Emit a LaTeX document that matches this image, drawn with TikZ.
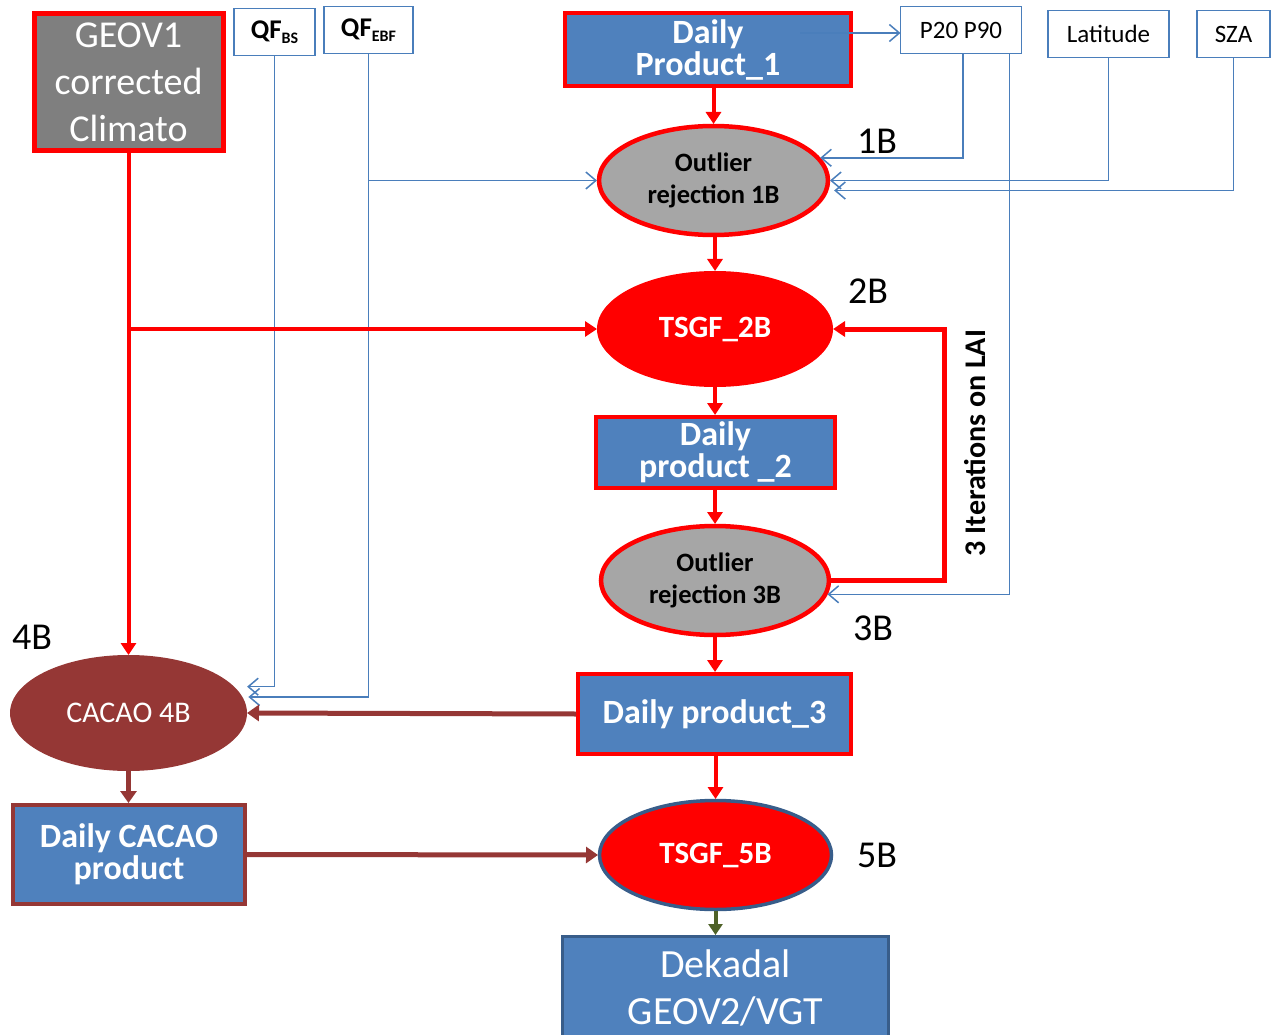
\documentclass[tikz,border=0pt]{standalone}
\usepackage{fontspec}
\setmainfont{Carlito}
\usetikzlibrary{shapes.geometric,arrows.meta,calc}
\definecolor{cblue}{RGB}{79,129,189}
\definecolor{cline}{RGB}{74,126,187}
\definecolor{cdgray}{RGB}{127,127,127}
\definecolor{clgray}{RGB}{166,166,166}
\definecolor{cbrown}{RGB}{149,55,53}
\definecolor{cnavy}{RGB}{56,93,138}
\definecolor{cgreen}{RGB}{79,98,40}
\tikzset{
 every node/.style={inner sep=0pt, outer sep=0pt, align=center},
 prodbox/.style={rectangle, fill=cblue, draw=red, line width=4.5pt, outer sep=2pt, text=white, font=\fontsize{34}{32}\selectfont\bfseries},
 infobox/.style={rectangle, draw=cline, line width=1.4pt, fill=white, minimum height=47pt, font=\fontsize{25}{30}\selectfont},
 outlier/.style={ellipse, fill=clgray, draw=red, line width=4.5pt, outer sep=2pt, font=\fontsize{26.5}{32}\selectfont\bfseries},
 tsgf/.style={ellipse, fill=red, text=white, font=\fontsize{31}{36}\selectfont\bfseries},
 steplbl/.style={font=\fontsize{38}{40}\selectfont},
 redarrow/.style={draw=red, line width=4pt, -{Triangle[length=12pt,width=15pt]}},
 brownarrow/.style={draw=cbrown, line width=5pt, -{Triangle[length=12pt,width=16pt]}},
 greenarrow/.style={draw=cgreen, line width=4pt, -{Triangle[length=11pt,width=14pt]}},
 bluearrow/.style={draw=cline, line width=1.5pt, -{Straight Barb[length=10pt,width=17pt]}},
}
\begin{document}
\begin{tikzpicture}[x=1pt,y=-1pt]
\useasboundingbox (0,0) rectangle (1280,1035);
% nodes
\node[rectangle, fill=cdgray, draw=red, line width=5pt, outer sep=2pt, minimum width=189pt, minimum height=137pt, text=white, font=\fontsize{38}{47}\selectfont] (geo) at (128.5,82.5) {GEOV1\\corrected\\Climato};
\node[infobox, minimum width=81pt] (qfbs) at (274.5,32) {\fontsize{27}{30}\selectfont\bfseries QF\raisebox{-5pt}{\fontsize{16}{18}\selectfont\bfseries BS}};
\node[infobox, minimum width=89pt] (qfebf) at (368.5,30) {\fontsize{27}{30}\selectfont\bfseries QF\raisebox{-5pt}{\fontsize{16}{18}\selectfont\bfseries EBF}};
\node[prodbox, minimum width=286pt, minimum height=73pt] (dp1) at (708,49.5) {Daily\\Product\_1};
\node[infobox, minimum width=121pt] (p20) at (961,30) {P20 P90};
\node[infobox, minimum width=121pt] (lat) at (1108.5,34) {Latitude};
\node[infobox, minimum width=73pt] (sza) at (1233.5,34) {SZA};
\node[outlier, minimum width=229pt, minimum height=109pt] (o1b) at (713.5,180.5) {Outlier\\rejection 1B};
\node[tsgf, minimum width=236pt, minimum height=116pt] (t2b) at (715,329) {TSGF\_2B};
\node[prodbox, minimum width=239pt, minimum height=71pt] (dp2) at (715.5,452.5) {Daily\\product \_2};
\node[outlier, minimum width=228pt, minimum height=109pt] (o3b) at (715,580.5) {Outlier\\rejection 3B};
\node[prodbox, minimum width=273pt, minimum height=80pt] (dp3) at (714.5,714) {Daily product\_3};
\node[ellipse, fill=cbrown, text=white, minimum width=237pt, minimum height=116pt, font=\fontsize{30}{34}\selectfont] (cacao) at (128.5,713) {CACAO 4B};
\node[prodbox, draw=cbrown, minimum width=232pt, minimum height=99pt] (dcacao) at (129,854.5) {Daily CACAO\\product};
\node[tsgf, draw=cnavy, line width=3.5pt, outer sep=1.5pt, minimum width=232pt, minimum height=109pt] (t5b) at (715.5,855) {TSGF\_5B};
\node[rectangle, fill=cblue, draw=cnavy, line width=3pt, outer sep=1.5pt, text=white, minimum width=326pt, minimum height=103pt, font=\fontsize{40}{47}\selectfont] (dek) at (725.5,988) {Dekadal\\GEOV2/VGT};
% labels
\node[steplbl] (l1b) at (877,141) {1B};
\node[steplbl] (l2b) at (868,291) {2B};
\node[steplbl] (l3b) at (873,628) {3B};
\node[steplbl] (l4b) at (32,637) {4B};
\node[steplbl] (l5b) at (877,855) {5B};
\node[rotate=90, font=\fontsize{30}{34}\selectfont\bfseries] (iter) at (975,443) {3 Iterations on LAI};
% blue connectors
\coordinate (dp1in) at (800,33);
\draw[bluearrow] (dp1in) -- (dp1in -| p20.west);
\draw[bluearrow] ($(p20.south)+(2,0)$) |- (o1b.12);
\draw[bluearrow] ($(p20.south)+(48.3,0)$) |- (o3b.-7.5);
\draw[bluearrow] (lat.south) |- (o1b.east);
\draw[bluearrow, shorten >=6pt] (sza.south) |- (o1b.-5.7);
\draw[bluearrow] (qfebf.south) |- (o1b.west);
\draw[bluearrow, shorten >=6pt] (qfebf.south) |- (cacao.8.5);
\draw[bluearrow, shorten >=13pt] (qfbs.south) |- (cacao.14.4);
% red connectors
\draw[redarrow] (o1b.north |- dp1.south) -- (o1b.north);
\draw[redarrow] (t2b.north |- o1b.south) -- (t2b.north);
\draw[redarrow] (t2b.south) -- (t2b.south |- dp2.north);
\draw[redarrow] (o3b.north |- dp2.south) -- (o3b.north);
\draw[redarrow] (o3b.south) -- (o3b.south |- dp3.north);
\draw[redarrow] (t5b.north |- dp3.south) -- (t5b.north);
\draw[redarrow] (geo.south) -- (cacao.north);
\draw[redarrow] (geo.south |- t2b.west) -- (t2b.west);
\coordinate (loop) at (944,455);
\draw[redarrow, line width=5pt] (o3b.east) -| (loop) |- (t2b.east);
% brown and green connectors
\draw[brownarrow] (dp3.west) -- (cacao.east);
\draw[brownarrow] (cacao.south) -- (cacao.south |- dcacao.north);
\draw[brownarrow] (dcacao.east) -- (t5b.west);
\draw[greenarrow] (t5b.south) -- (t5b.south |- dek.north);
\end{tikzpicture}
\end{document}
